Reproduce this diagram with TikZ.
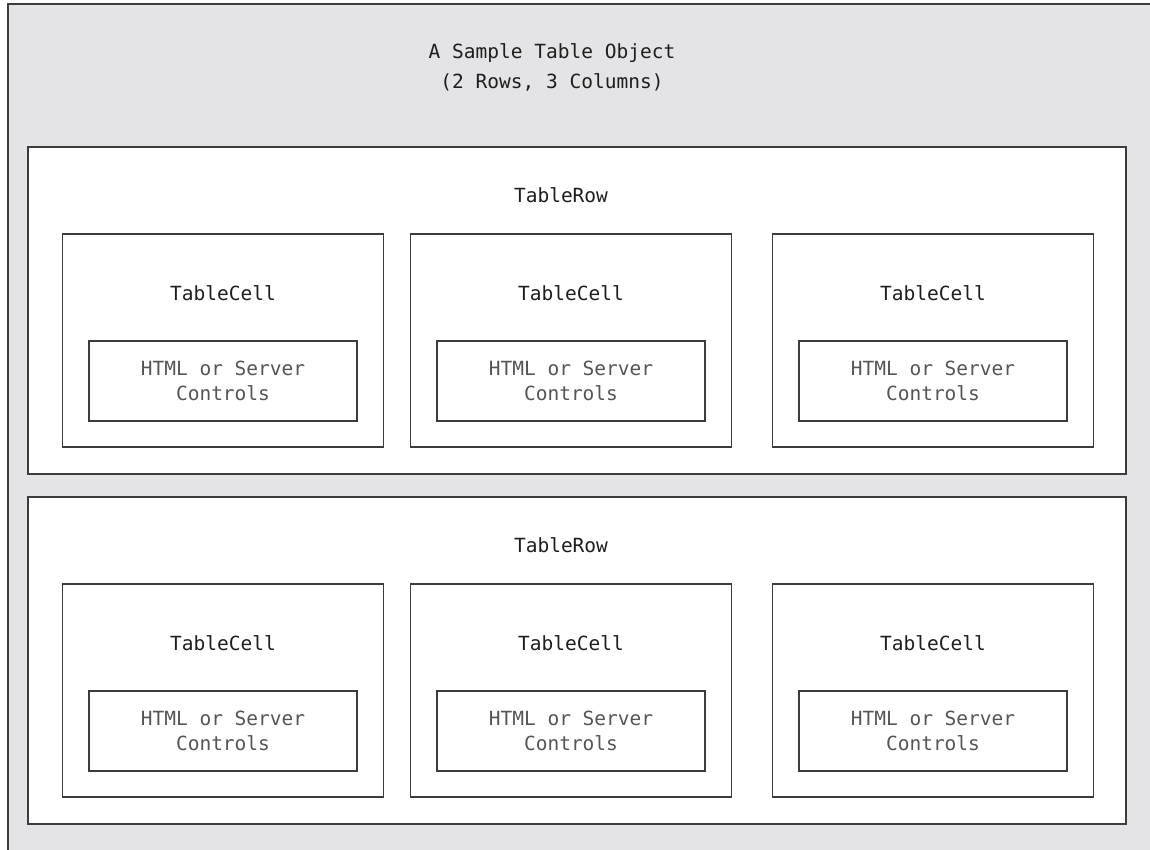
\documentclass[tikz,border=0pt]{standalone}
\usepackage{fontspec}
\setmonofont{DejaVu Sans Mono}
\usepackage{tikz}
\usetikzlibrary{
    positioning,
    calc
}
\definecolor{PanelGray}{RGB}{228,228,230}
\definecolor{EdgeInk}{RGB}{60,60,60}
\definecolor{TagInk}{RGB}{30,30,30}
\definecolor{CtrlInk}{RGB}{85,85,85}
\tikzset{
    panel/.style={draw=EdgeInk, line width=1.6pt, fill=PanelGray},
    rowbox/.style={draw=EdgeInk, line width=1.6pt, fill=white, minimum width=1098pt, minimum height=327pt, inner sep=0pt},
    cellbox/.style={draw=EdgeInk, line width=1.6pt, fill=white, minimum width=321pt, minimum height=213pt, inner sep=0pt},
    ctrlbox/.style={draw=EdgeInk, line width=1.6pt, fill=white, minimum width=268pt, minimum height=80pt, inner sep=0pt,
        font=\ttfamily\fontsize{19.5}{25}\selectfont, text=CtrlInk, align=center},
    tag/.style={font=\ttfamily\fontsize{19.5}{30}\selectfont, text=TagInk, align=center, inner sep=0pt}
}

\begin{document}
\begin{tikzpicture}[x=1pt, y=-1pt]
                    \useasboundingbox (0,0) rectangle (1150,850);
                    \coordinate (ColA) at (223,0);
                    \coordinate (ColB) at (571,0);
                    \coordinate (ColC) at (933,0);
                    \def\RowGap{350}
                    \draw[panel] (8,4) rectangle (1170,870);
                    \node[tag] (title) at (552,67) {A Sample Table Object\\(2 Rows, 3 Columns)};
                    % first row
                    \node[rowbox] (rowA) at (577,310.5) {};
                    \node[tag] (rowAtag) at ($(rowA.north)+(-16,49)$) {TableRow};
                    \node[cellbox] (cellAA) at ($(ColA)+(0,340.5)$) {};
                    \node[cellbox] (cellAB) at ($(ColB)+(0,340.5)$) {};
                    \node[cellbox] (cellAC) at ($(ColC)+(0,340.5)$) {};
                    \node[tag] (tagAA) at ($(cellAA.north)+(0,60)$) {TableCell};
                    \node[tag] (tagAB) at ($(cellAB.north)+(0,60)$) {TableCell};
                    \node[tag] (tagAC) at ($(cellAC.north)+(0,60)$) {TableCell};
                    \node[ctrlbox] (ctrlAA) at ($(ColA)+(0,381)$) {HTML or Server\\Controls};
                    \node[ctrlbox] (ctrlAB) at ($(ColB)+(0,381)$) {HTML or Server\\Controls};
                    \node[ctrlbox] (ctrlAC) at ($(ColC)+(0,381)$) {HTML or Server\\Controls};
                    % second row
                    \node[rowbox] (rowB) at (577,310.5+\RowGap) {};
                    \node[tag] (rowBtag) at ($(rowB.north)+(-16,49)$) {TableRow};
                    \node[cellbox] (cellBA) at ($(ColA)+(0,340.5+\RowGap)$) {};
                    \node[cellbox] (cellBB) at ($(ColB)+(0,340.5+\RowGap)$) {};
                    \node[cellbox] (cellBC) at ($(ColC)+(0,340.5+\RowGap)$) {};
                    \node[tag] (tagBA) at ($(cellBA.north)+(0,60)$) {TableCell};
                    \node[tag] (tagBB) at ($(cellBB.north)+(0,60)$) {TableCell};
                    \node[tag] (tagBC) at ($(cellBC.north)+(0,60)$) {TableCell};
                    \node[ctrlbox] (ctrlBA) at ($(ColA)+(0,381+\RowGap)$) {HTML or Server\\Controls};
                    \node[ctrlbox] (ctrlBB) at ($(ColB)+(0,381+\RowGap)$) {HTML or Server\\Controls};
                    \node[ctrlbox] (ctrlBC) at ($(ColC)+(0,381+\RowGap)$) {HTML or Server\\Controls};
                \end{tikzpicture}
\end{document}
